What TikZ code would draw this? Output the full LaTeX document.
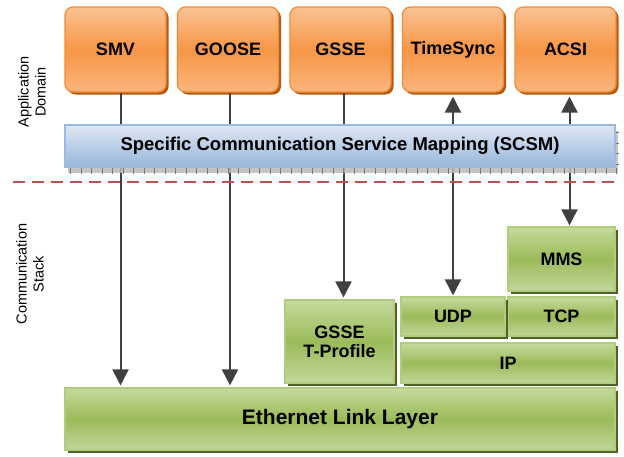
\documentclass[tikz,border=0pt]{standalone}
\usepackage{fontspec}
\setmainfont{Liberation Sans}
\usetikzlibrary{arrows.meta, shadows}

\definecolor{apptop}{HTML}{FAC393}
\definecolor{appmid}{HTML}{F79646}
\definecolor{appbot}{HTML}{FBB57C}
\definecolor{appedge}{HTML}{F28A35}
\definecolor{appshade}{HTML}{B35A12}
\definecolor{stacktop}{HTML}{C6DA9E}
\definecolor{stackmid}{HTML}{9BBB59}
\definecolor{stackbot}{HTML}{C3D79B}
\definecolor{stackedge}{HTML}{B2CC7E}
\definecolor{stackshade}{HTML}{4F6228}
\definecolor{maptop}{HTML}{DEE7F3}
\definecolor{mapbot}{HTML}{98B5DA}
\definecolor{mapedge}{HTML}{9DB9DE}
\definecolor{flowgray}{HTML}{404040}
\definecolor{divred}{HTML}{C0504D}

\begin{document}
\begin{tikzpicture}[
            x = 1pt, y = -1pt, % work in pixels, y runs down
            > = {Triangle[width=16pt,length=16pt]}, % arrow head style
            font = \fontsize{18}{21}\selectfont\bfseries
        ]

        \tikzstyle{appbox}=[
            draw = appedge,
            line width = 1.2pt,
            rounded corners = 8pt,
            top color = apptop, bottom color = appbot, middle color = appmid,
            drop shadow = {shadow xshift=2.5pt, shadow yshift=-2.5pt, fill=appshade, opacity=1},
            minimum width = 101pt,
            minimum height = 85pt,
            inner sep = 0pt
        ]
        \tikzstyle{stackbox}=[
            draw = stackedge,
            line width = 1.2pt,
            top color = stacktop, bottom color = stackbot, middle color = stackmid,
            drop shadow = {shadow xshift=2.5pt, shadow yshift=-2.5pt, fill=stackshade, opacity=1},
            inner sep = 0pt,
            align = center
        ]
        \tikzstyle{mapbar}=[
            draw = mapedge,
            line width = 1.2pt,
            top color = maptop, bottom color = mapbot,
            drop shadow = {shadow xshift=3pt, shadow yshift=-6pt, fill=gray!55, opacity=0.85},
            minimum width = 550pt,
            minimum height = 42pt,
            inner sep = 0pt
        ]
        \tikzstyle{sidelabel}=[
            rotate = 90,
            align = center,
            font = \fontsize{14.5}{17}\selectfont
        ]
        \tikzstyle{flow}=[
            draw = flowgray,
            line width = 2pt
        ]

        \useasboundingbox (0,0) rectangle (624,456);

        % application domain
        \node (smv) [appbox] at (115.5,49.5) {SMV};
        \node (goose) [appbox] at (228,49.5) {GOOSE};
        \node (gsse) [appbox] at (340.5,49.5) {GSSE};
        \node (sync) [appbox] at (453,49.5) {TimeSync};
        \node (acsi) [appbox] at (565.5,49.5) {ACSI};

        % communication stack
        \node (mms) [stackbox, minimum width=107pt, minimum height=64pt] at (561.5,259) {MMS};
        \node (tcp) [stackbox, minimum width=107pt, minimum height=39pt] at (561.5,316.5) {TCP};
        \node (udp) [stackbox, minimum width=104pt, minimum height=39pt] at (453,316.5) {UDP};
        \node (ip) [stackbox, minimum width=214pt, minimum height=40pt] at (508,363) {IP};
        \node (gtp) [stackbox, minimum width=109pt, minimum height=83pt] at (339.5,341.5) {GSSE\\[-2pt]T-Profile};
        \node (eth) [stackbox, minimum width=550pt, minimum height=62pt,
            font=\fontsize{21}{24}\selectfont\bfseries] at (340,419) {Ethernet Link Layer};

        \node (appdom) [sidelabel] at (32,92) {Application\\Domain};
        \node (comstack) [sidelabel] at (30,274) {Communication\\Stack};

        % flows
        \draw[flow, ->, shorten > = 2pt] ([xshift=5pt]smv.south) -- ([xshift=5pt]smv.south |- eth.north);
        \draw[flow, ->, shorten > = 2pt] ([xshift=2pt]goose.south) -- ([xshift=2pt]goose.south |- eth.north);
        \draw[flow, ->, shorten > = 2pt] ([xshift=3pt]gsse.south) -- ([xshift=3pt]gsse.south |- gtp.north);
        \draw[flow, <->, shorten < = 4pt, shorten > = 1pt] (sync.south) -- (sync.south |- udp.north);
        \draw[flow, <->, shorten < = 4pt, shorten > = 1pt] ([xshift=4pt]acsi.south) -- ([xshift=4pt]acsi.south |- mms.north);

        % mapping layer on top of the flows
        \node (scsm) [mapbar, font=\fontsize{18.5}{21}\selectfont\bfseries] at (340,146)
            {Specific Communication Service Mapping (SCSM)};
        \foreach \i in {0,...,52}
            \draw[flowgray!70, line width = 0.6pt] ([xshift={(6+10.5*\i)*1pt}]scsm.south west) -- ++(0,6);
        \foreach \j in {0,...,3}
            \draw[flowgray!70, line width = 0.6pt] ([yshift={(-8-10.5*\j)*1pt}]scsm.north east) -- ++(3,0);

        % domain divider
        \coordinate (divl) at (13,182);
        \coordinate (divr) at (619,182);
        \draw[divred, line width = 2.2pt, dash pattern = on 12pt off 7pt] (divl) -- (divr);

    \end{tikzpicture}
\end{document}
